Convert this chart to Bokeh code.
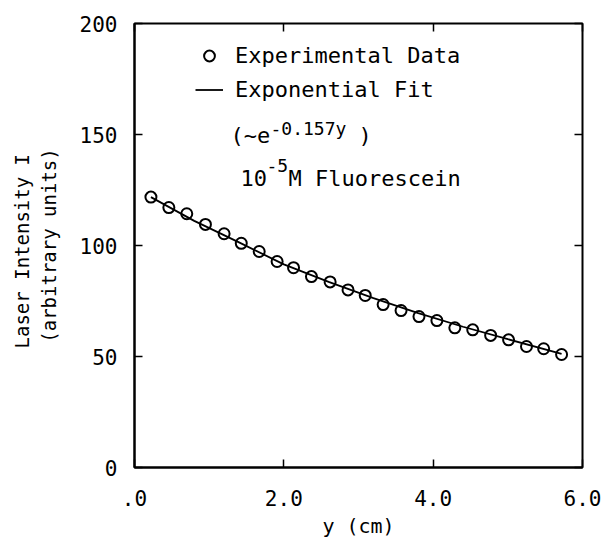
from bokeh.plotting import figure
from bokeh.models import Range1d, FixedTicker, LinearAxis, Label, Legend, LegendItem
from bokeh.embed import file_html
from bokeh.resources import INLINE

# ---- data ----
pos_cm = [0.22, 0.46, 0.70, 0.95, 1.20, 1.43, 1.67, 1.91, 2.13, 2.37, 2.62, 2.86,
          3.09, 3.33, 3.57, 3.81, 4.05, 4.29, 4.53, 4.77, 5.01, 5.25, 5.48, 5.72]
intensity = [121.8, 117.1, 114.3, 109.5, 105.3, 101.0, 97.3, 92.8, 90.0, 86.0, 83.6, 80.0,
             77.5, 73.4, 70.7, 68.0, 66.2, 62.9, 62.0, 59.5, 57.5, 54.5, 53.5, 50.9]

fit_pos = [0.22, 0.8, 1.4, 2.0, 2.6, 3.2, 3.8, 4.4, 5.0, 5.72]
fit_val = [121.8, 111.1, 101.4, 91.5, 83.6, 76.3, 69.5, 63.4, 57.8, 51.2]

x_ticks = [0, 2, 4, 6]
x_tick_labels = [".0", "2.0", "4.0", "6.0"]
y_ticks = [0, 50, 100, 150, 200]
y_tick_labels = ["0", "50", "100", "150", "200"]

FONT = "DejaVu Sans Mono"

p = figure(width=605, height=543, output_backend="svg", toolbar_location=None,
           x_range=Range1d(0, 6), y_range=Range1d(0, 200),
           min_border_left=134, min_border_right=23, min_border_top=23,
           min_border_bottom=76,
           x_axis_label="y (cm)",
           y_axis_label="Laser Intensity  I\n(arbitrary units)")

p.background_fill_color = "white"
p.border_fill_color = "white"
p.outline_line_color = "black"
p.outline_line_width = 2
p.xgrid.visible = False
p.ygrid.visible = False

xa = p.xaxis[0]
xa.ticker = FixedTicker(ticks=x_ticks, minor_ticks=[])
xa.major_label_overrides = dict(zip(x_ticks, x_tick_labels))
ya = p.yaxis[0]
ya.ticker = FixedTicker(ticks=y_ticks, minor_ticks=[])
ya.major_label_overrides = dict(zip(y_ticks, y_tick_labels))

for ax in (xa, ya):
    ax.axis_line_color = "black"
    ax.axis_line_width = 2
    ax.major_tick_in = 8
    ax.major_tick_out = 0
    ax.minor_tick_in = 0
    ax.minor_tick_out = 0
    ax.major_tick_line_width = 1.5
    ax.major_tick_line_color = "black"
    ax.major_label_text_font = FONT
    ax.major_label_text_font_size = "21px"
    ax.major_label_text_color = "black"
    ax.axis_label_text_font = FONT
    ax.axis_label_text_font_style = "normal"
    ax.axis_label_text_color = "black"

xa.major_label_standoff = 22
xa.axis_label_standoff = 5
xa.axis_label_text_font_size = "20px"
ya.major_label_standoff = 17
ya.axis_label_standoff = 17
ya.axis_label_text_font_size = "19px"

# inward ticks on top and right (no labels)
top = LinearAxis(ticker=FixedTicker(ticks=x_ticks, minor_ticks=[]))
right = LinearAxis(ticker=FixedTicker(ticks=y_ticks, minor_ticks=[]))
top.major_label_overrides = {t: "" for t in x_ticks}
right.major_label_overrides = {t: "" for t in y_ticks}
for ax in (top, right):
    ax.axis_line_color = None
    ax.major_tick_in = 8
    ax.major_tick_out = 0
    ax.minor_tick_in = 0
    ax.minor_tick_out = 0
    ax.major_tick_line_width = 1.5
    ax.major_tick_line_color = "black"
    ax.major_label_text_font_size = "0px"
    ax.major_label_standoff = 0
p.add_layout(top, "above")
p.add_layout(right, "right")

# data
fit_r = p.line(fit_pos, fit_val, line_color="black", line_width=1.8)
pts_r = p.scatter(pos_cm, intensity, marker="circle", size=11, fill_color=None,
                  line_color="black", line_width=2)

legend = Legend(items=[LegendItem(label="Experimental Data", renderers=[pts_r]),
                       LegendItem(label="Exponential Fit", renderers=[fit_r])],
                location=(61, 364), orientation="vertical")
legend.label_text_font = FONT
legend.label_text_font_size = "22px"
legend.label_text_color = "black"
legend.glyph_width = 28
legend.glyph_height = 27
legend.label_height = 27
legend.label_standoff = 12
legend.spacing = 7
legend.padding = 0
legend.margin = 0
legend.border_line_color = None
legend.background_fill_alpha = 0
p.add_layout(legend, "center")

def add_text(x, y, txt, size):
    p.add_layout(Label(x=x, y=y, text=txt, text_font=FONT, text_font_size=size,
                       text_color="black", text_align="left",
                       text_baseline="alphabetic"))

add_text(1.286, 149.5, "(~e", "22px")
add_text(1.821, 152.7, "-0.157y", "18px")
add_text(3.0, 149.5, ")", "22px")
add_text(1.42, 130.2, "10", "22px")
add_text(1.768, 136.0, "-5", "18px")
add_text(2.062, 130.2, "M Fluorescein", "22px")

open("out.html", "w").write(file_html(p, INLINE))
